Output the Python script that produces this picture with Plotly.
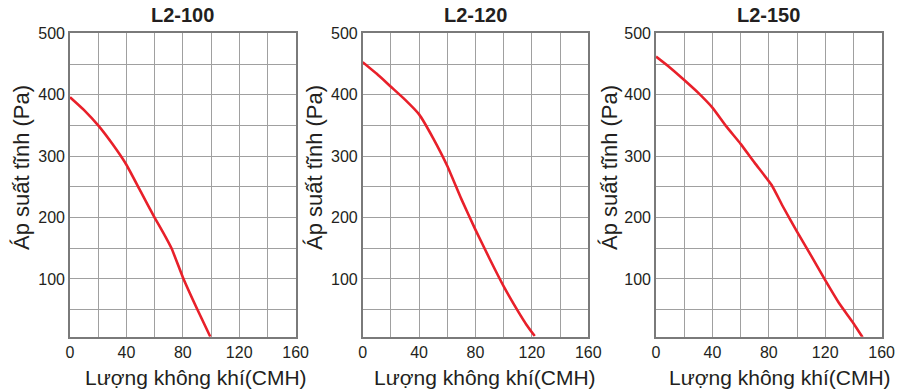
import plotly.graph_objects as go

# Fan performance curves: static pressure (Pa) vs. airflow (CMH)
model_names = ["L2-100", "L2-120", "L2-150"]

airflow_l2_100 = [0, 10, 20, 30, 40, 50, 60, 66, 72, 80, 90, 99.5]
pressure_l2_100 = [396, 375, 350, 320, 286, 243, 200, 176, 150, 103, 52, 6]

airflow_l2_120 = [0, 10, 20, 30, 40, 50, 60, 70, 80, 90, 100, 110, 116, 122]
pressure_l2_120 = [453, 434, 413, 392, 368, 329, 284, 230, 180, 133, 88, 48, 26, 7]

airflow_l2_150 = [0, 10, 20, 30, 40, 50, 60, 70, 82, 90, 100, 110, 120, 130, 140, 146.5]
pressure_l2_150 = [462, 444, 424, 403, 379, 348, 320, 289, 253, 218, 177, 138, 98, 60, 28, 5]

x_ticks = [0, 40, 80, 120, 160]
y_ticks = [100, 200, 300, 400, 500]

x_title = "Lượng không khí(CMH)"
y_title = "Áp suất tĩnh (Pa)"

series = [
    (airflow_l2_100, pressure_l2_100),
    (airflow_l2_120, pressure_l2_120),
    (airflow_l2_150, pressure_l2_150),
]

W, H = 899, 392
plot_lefts = [70, 362.7, 656]
plot_width = 225.6
y_top, y_bot = 33.3, 336.7
x_title_centers = [196, 485, 780]
y_title_centers = [21, 314, 609]

FONT = "Liberation Sans, Arial, Helvetica, sans-serif"
TEXT = "#231f20"
GRID = "#a0a0a0"
FRAME = "#7a7a7a"
RED = "#e8202a"

fig = go.Figure()
layout = {}
annotations = []

for i, (name, (xs, ys)) in enumerate(zip(model_names, series)):
    suffix = "" if i == 0 else str(i + 1)
    fig.add_trace(go.Scatter(
        x=xs, y=ys, mode="lines",
        line=dict(color=RED, width=2.6, shape="spline", smoothing=0.4),
        xaxis="x" + suffix, yaxis="y" + suffix,
        showlegend=False, hoverinfo="skip",
    ))
    left = plot_lefts[i]
    layout["xaxis" + suffix] = dict(
        domain=[left / W, (left + plot_width) / W],
        range=[0, 160], tickvals=x_ticks, ticks="",
        showgrid=True, gridcolor=GRID, gridwidth=1.2,
        minor=dict(tick0=0, dtick=20, showgrid=True, gridcolor=GRID, gridwidth=1.2),
        showline=True, mirror=True, linecolor=FRAME, linewidth=1.6,
        zeroline=False, fixedrange=True, automargin=False,
        tickfont=dict(family=FONT, size=16, color=TEXT),
        anchor="y" + suffix,
    )
    layout["yaxis" + suffix] = dict(
        domain=[(H - y_bot) / H, (H - y_top) / H],
        range=[6, 500], tickvals=y_ticks, ticks="",
        showgrid=True, gridcolor=GRID, gridwidth=1.2,
        minor=dict(tick0=0, dtick=50, showgrid=True, gridcolor=GRID, gridwidth=1.2),
        showline=True, mirror=True, linecolor=FRAME, linewidth=1.6,
        zeroline=False, fixedrange=True, automargin=False,
        tickfont=dict(family=FONT, size=16, color=TEXT),
        anchor="x" + suffix,
    )
    # chart title
    annotations.append(dict(
        text="<b>" + name + "</b>", xref="paper", yref="paper",
        x=(left + plot_width / 2) / W, y=(H - 15) / H,
        xanchor="center", yanchor="middle", showarrow=False,
        font=dict(family=FONT, size=20, color=TEXT),
    ))
    # x-axis title
    annotations.append(dict(
        text=x_title, xref="paper", yref="paper",
        x=x_title_centers[i] / W, y=(H - 377) / H,
        xanchor="center", yanchor="middle", showarrow=False,
        font=dict(family=FONT, size=21, color=TEXT),
    ))
    # y-axis title
    annotations.append(dict(
        text=y_title, xref="paper", yref="paper",
        x=y_title_centers[i] / W, y=(H - 168) / H,
        xanchor="center", yanchor="middle", showarrow=False, textangle=-90,
        font=dict(family=FONT, size=22, color=TEXT),
    ))

fig.update_layout(
    **layout,
    annotations=annotations,
    width=W, height=H,
    margin=dict(l=0, r=0, t=0, b=0),
    plot_bgcolor="white", paper_bgcolor="white",
)

fig.write_html("out.html")
